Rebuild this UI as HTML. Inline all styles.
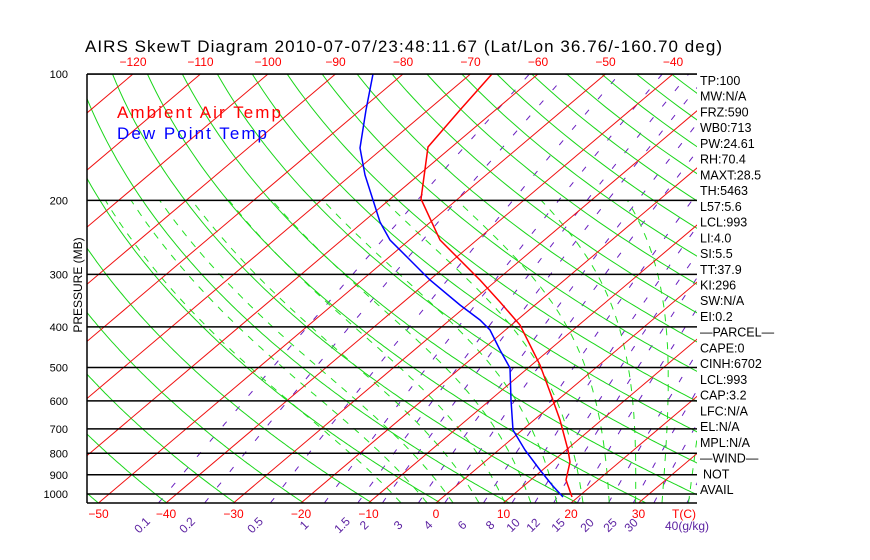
<!DOCTYPE html>
<html><head><meta charset="utf-8"><style>
body{margin:0;background:#fff;width:870px;height:560px;overflow:hidden}
svg{display:block;font-family:"Liberation Sans",sans-serif}
</style></head><body>
<svg id="s" width="870" height="560" xmlns="http://www.w3.org/2000/svg">
<defs><clipPath id="c"><rect x="87" y="74" width="610" height="429"/></clipPath></defs>
<g id="g" clip-path="url(#c)"></g>
<g id="fg"></g>
</svg>
<script>
var NS="http://www.w3.org/2000/svg";
var g=document.getElementById('g'),fg=document.getElementById('fg');
function Y(p){return 74+182.4*Math.log(p/100);}
function X(T,p){var y=Y(p);return 436+6.75*T+507*(503-y)/429;}
function el(par,tag,a,txt){var e=document.createElementNS(NS,tag);for(var k in a)e.setAttribute(k,a[k]);if(txt!=null)e.textContent=txt;par.appendChild(e);return e;}
function poly(pts,st,w,da){el(g,'polyline',{points:pts.map(function(q){return q[0].toFixed(1)+','+q[1].toFixed(1)}).join(' '),fill:'none',stroke:st,'stroke-width':w||1,'stroke-dasharray':da||'none'});}
var ps=[];for(var p=1050;p>=95;p-=5)ps.push(p);
var ws=[0.1,0.2,0.5,1,1.5,2,3,4,6,8,10,12,15,20,25,30,40];
ws.forEach(function(w){var pts=[];ps.forEach(function(p){var e=w*p/(622+w);var l=Math.log(e/6.112);var td=243.5*l/(17.67-l);pts.push([X(td,p),Y(p)]);});poly(pts,'#6a1fc0',1,'6,14');});
function moist(T0){var T=T0+273.15;
 function step(p,T,dp){var Tc=T-273.15;var es=6.112*Math.exp(17.67*Tc/(Tc+243.5));var rs=0.622*es/(p-es);var L=2.5e6;var num=(287*T+L*rs)/p;var den=1004+L*L*rs*0.622/(287*T*T);return num/den*dp;}
 var up=[],dn=[];
 var t=T;for(var q=1000;q<1050;q+=5){t+=step(q,t,5);dn.push([X(t-273.15,q+5),Y(q+5)]);}
 t=T;up.push([X(t-273.15,1000),Y(1000)]);for(var q=1000;q>200;q-=5){t-=step(q,t,5);up.push([X(t-273.15,q-5),Y(q-5)]);}
 return dn.reverse().concat(up);}
for(var t=-8;t<=40;t+=4)poly(moist(t),'#22e022',1,'7,7');
for(var th=200;th<=520;th+=10){var pts=[];ps.forEach(function(p){var T=th*Math.pow(p/1000,0.286)-273.15;pts.push([X(T,p),Y(p)]);});poly(pts,'#1ad61a',1);}
for(var T=-170;T<=50;T+=10){poly([[X(T,1050),Y(1050)],[X(T,100),Y(100)]],'#f01010',1);}
[100,200,300,400,500,600,700,800,900,1000].forEach(function(p){el(g,'line',{x1:87,x2:697,y1:Y(p),y2:Y(p),stroke:'#000','stroke-width':1.5});});
poly([[492,74],[460,110],[428,147],[421,199],[440,240],[480,280],[500,302],[520,325],[530,345],[540,365],[550,392],[560,420],[568,450],[570,462],[566,480],[572,497]],'#f00',1.5);
poly([[373,74],[366,110],[360,148],[365,175],[373,200],[380,222],[390,240],[410,260],[430,280],[460,305],[480,320],[490,330],[500,350],[510,368],[511,400],[513,430],[525,450],[540,470],[552,485],[563,497]],'#00f',1.5);
el(g,'text',{x:117,y:118,fill:'#f00','font-size':17,textLength:164},'Ambient Air Temp');
el(g,'text',{x:117,y:139,fill:'#00f','font-size':17,textLength:150},'Dew Point Temp');
el(fg,'line',{x1:87,x2:87,y1:74,y2:503,stroke:'#000','stroke-width':1.5});
el(fg,'line',{x1:87,x2:697,y1:74,y2:74,stroke:'#000','stroke-width':1.5});
el(fg,'line',{x1:87,x2:697,y1:503,y2:503,stroke:'#000','stroke-width':1.5});
el(fg,'text',{x:85,y:52,'font-size':17,textLength:637},'AIRS SkewT Diagram 2010-07-07/23:48:11.67 (Lat/Lon 36.76/-160.70 deg)');
[-120,-110,-100,-90,-80,-70,-60,-50,-40].forEach(function(t){el(fg,'text',{x:673+6.75*(t+40),y:66,fill:'#f00','font-size':12,'text-anchor':'middle'},String(t).replace('-','\u2212'));});
[-50,-40,-30,-20,-10,0,10,20,30].forEach(function(t){el(fg,'text',{x:436+6.75*t,y:518,fill:'#f00','font-size':12,'text-anchor':'middle'},String(t).replace('-','\u2212'));});
el(fg,'text',{x:684,y:518,fill:'#f00','font-size':12,'text-anchor':'middle'},'T(C)');
[100,200,300,400,500,600,700,800,900,1000].forEach(function(p){el(fg,'text',{x:68,y:Y(p)+4,'font-size':11,'text-anchor':'end'},p);});
el(fg,'text',{x:0,y:0,'font-size':12,'text-anchor':'middle',transform:'translate(82,285) rotate(-90)'},'PRESSURE (MB)');
var wl=[['0.1',145],['0.2',190],['0.5',258],['1',307],['1.5',345],['2',367],['3',401],['4',431],['6',465],['8',493],['10',516],['12',536],['15',561],['20',590],['25',613],['30',634]];
wl.forEach(function(a){el(fg,'text',{x:0,y:0,fill:'#5a1fa0','font-size':12,'text-anchor':'middle',transform:'translate('+a[1]+',528) rotate(-45)'},a[0]);});
el(fg,'text',{x:665,y:530,fill:'#5a1fa0','font-size':12},'40(g/kg)');
var lab=['TP:100','MW:N/A','FRZ:590','WB0:713','PW:24.61','RH:70.4','MAXT:28.5','TH:5463','L57:5.6','LCL:993','LI:4.0','SI:5.5','TT:37.9','KI:296','SW:N/A','EI:0.2','\u2014PARCEL\u2014','CAPE:0','CINH:6702','LCL:993','CAP:3.2','LFC:N/A','EL:N/A','MPL:N/A','\u2014WIND\u2014','NOT','AVAIL'];
lab.forEach(function(s,i){el(fg,'text',{x:(s=='NOT'?703:700),y:85+i*15.73,'font-size':12.5},s);});
</script>
</body></html>
